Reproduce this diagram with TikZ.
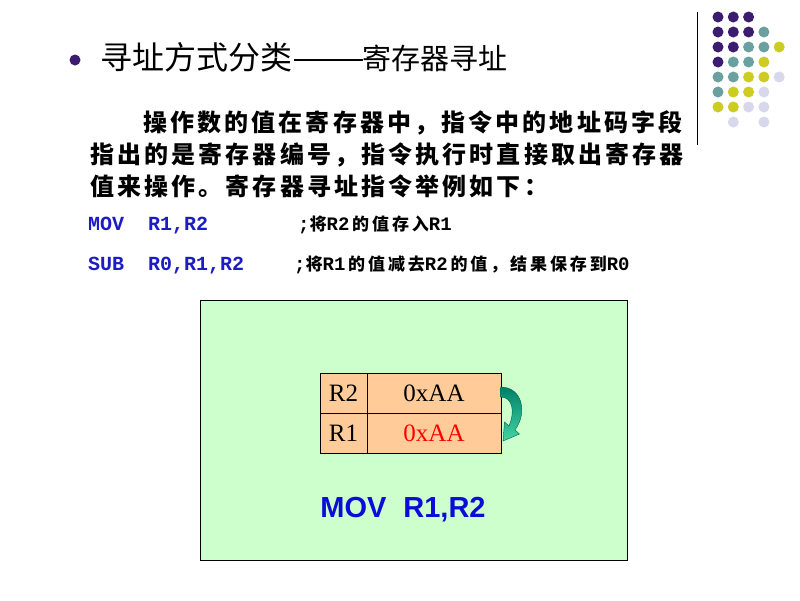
\documentclass[tikz,border=0pt]{standalone}
\usepackage{fontspec}
\usepackage{graphicx}
\setmainfont{Liberation Serif}
\newfontfamily\ccjk{Noto Sans CJK SC}
\newfontfamily\cbody[LetterSpace=13]{Noto Sans CJK SC}
\newfontfamily\ccmt[LetterSpace=17]{Noto Sans CJK SC}
\newfontfamily\cmono{Liberation Mono}
\newfontfamily\carial{Liberation Sans}
\newcommand\czh[1]{{\ccmt\bfseries #1}}
\newcommand\clat[1]{{\cmono\bfseries\fontsize{19}{20}\selectfont #1}}
\definecolor{dpurple}{HTML}{3B1C6E}
\definecolor{dteal}{HTML}{6BA0A0}
\definecolor{dyellow}{HTML}{CCCC22}
\definecolor{dlav}{HTML}{D8D8EC}
\definecolor{boxgreen}{HTML}{CCFFCC}
\definecolor{peach}{HTML}{FFCC99}
\definecolor{codeblue}{HTML}{1C1CC4}
\definecolor{movblue}{HTML}{0C0CD8}
\definecolor{arrtop}{HTML}{008068}
\definecolor{arrbot}{HTML}{44D4A4}
\definecolor{arredge}{HTML}{00604E}
\begin{document}
\begin{tikzpicture}[x=1pt,y=-1pt,
  dot/.style={circle,inner sep=0pt,minimum size=11pt},
  title/.style={anchor=base west,inner sep=0pt,font=\ccjk},
  body/.style={anchor=base west,inner sep=0pt,font=\cbody\bfseries\fontsize{24}{28}\selectfont},
  code/.style={anchor=base west,inner sep=0pt,text=codeblue,font=\cmono\bfseries\fontsize{20}{24}\selectfont},
  cmt/.style={anchor=base west,inner sep=0pt,font=\fontsize{17}{20}\selectfont},
  cell/.style={draw=black,line width=0.8pt,fill=peach,inner sep=0pt,minimum height=40pt,font=\fontsize{25}{28}\selectfont}]
\useasboundingbox (0,0) rectangle (800,600);
\fill[white] (0,0) rectangle (800,600);
% decoration dots
\draw[line width=0.9pt] (697,12) coordinate (vt) -- (697,145) coordinate (vb);
\foreach \c/\r/\col in {0/0/dpurple,1/0/dpurple,2/0/dpurple,
  0/1/dpurple,1/1/dpurple,2/1/dpurple,3/1/dteal,
  0/2/dpurple,1/2/dpurple,2/2/dteal,3/2/dteal,4/2/dyellow,
  0/3/dpurple,1/3/dteal,2/3/dteal,3/3/dyellow,
  0/4/dteal,1/4/dteal,2/4/dyellow,3/4/dyellow,4/4/dlav,
  0/5/dteal,1/5/dyellow,2/5/dyellow,3/5/dlav,
  0/6/dyellow,1/6/dyellow,2/6/dlav,3/6/dlav,
  1/7/dlav,3/7/dlav}
  \node[dot,fill=\col] (d\c\r) at ({718+15.3*\c},{17+15*\r}) {};
% title
\node[dot,fill=dpurple,minimum size=11pt] (bul) at (75,60) {};
\node[title,font=\ccjk\fontsize{32}{36}\selectfont] (t1) at (100,69) {寻址方式分类};
\node[title,font=\ccjk\fontsize{32}{36}\selectfont] (td) at (t1.base east) {\scalebox{1.36}[1]{——}};
\node[title,font=\ccjk\fontsize{29}{32}\selectfont] (t2) at (362,69) {寄存器寻址};
% body
\node[body] (b1) at (143,131.5) {操作数的值在寄存器中，指令中的地址码字段};
\node[body] (b2) at (90,163) {指出的是寄存器编号，指令执行时直接取出寄存器};
\node[body] (b3) at (90,195) {值来操作。寄存器寻址指令举例如下：};
% code
\node[code] (c1) at (88,230) {MOV\ \ R1,R2};
\node[code] (c2) at (88,270) {SUB\ \ R0,R1,R2};
\node[cmt] (m1) at (298,230) {\clat{;}\czh{将}\clat{R2}\,\czh{的值存入}\clat{R1}};
\node[cmt] (m2) at (294,270) {\clat{;}\czh{将}\clat{R1}\,\czh{的值减去}\clat{R2}\,\czh{的值，结果保存到}\clat{R0}};
% green box
\node[draw=black,line width=0.8pt,fill=boxgreen,minimum width=427pt,minimum height=260pt,inner sep=0pt] (box) at (413.5,430) {};
% register table
\node[cell,minimum width=47pt] (r2n) at (343.5,393) {R2};
\node[cell,minimum width=134pt] (r2v) at (434,393) {0xAA};
\node[cell,minimum width=47pt] (r1n) at (343.5,433) {R1};
\node[cell,minimum width=134pt,text=red] (r1v) at (434,433) {0xAA};
% curved arrow
\shade[top color=arrtop,bottom color=arrbot,draw=arredge,line width=0.4pt]
  (500.5,387) .. controls (522,387) and (528,412) .. (515,430)
  -- (519.5,434) -- (503,441) -- (504.5,422) -- (509,426)
  .. controls (515,412) and (513,397) .. (500.5,397) -- cycle;
% caption
\node[anchor=base,inner sep=0pt,text=movblue,font=\carial\bfseries\fontsize{29}{32}\selectfont] (mov) at (403,517) {MOV\hspace{17pt}R1,R2};
\end{tikzpicture}
\end{document}
